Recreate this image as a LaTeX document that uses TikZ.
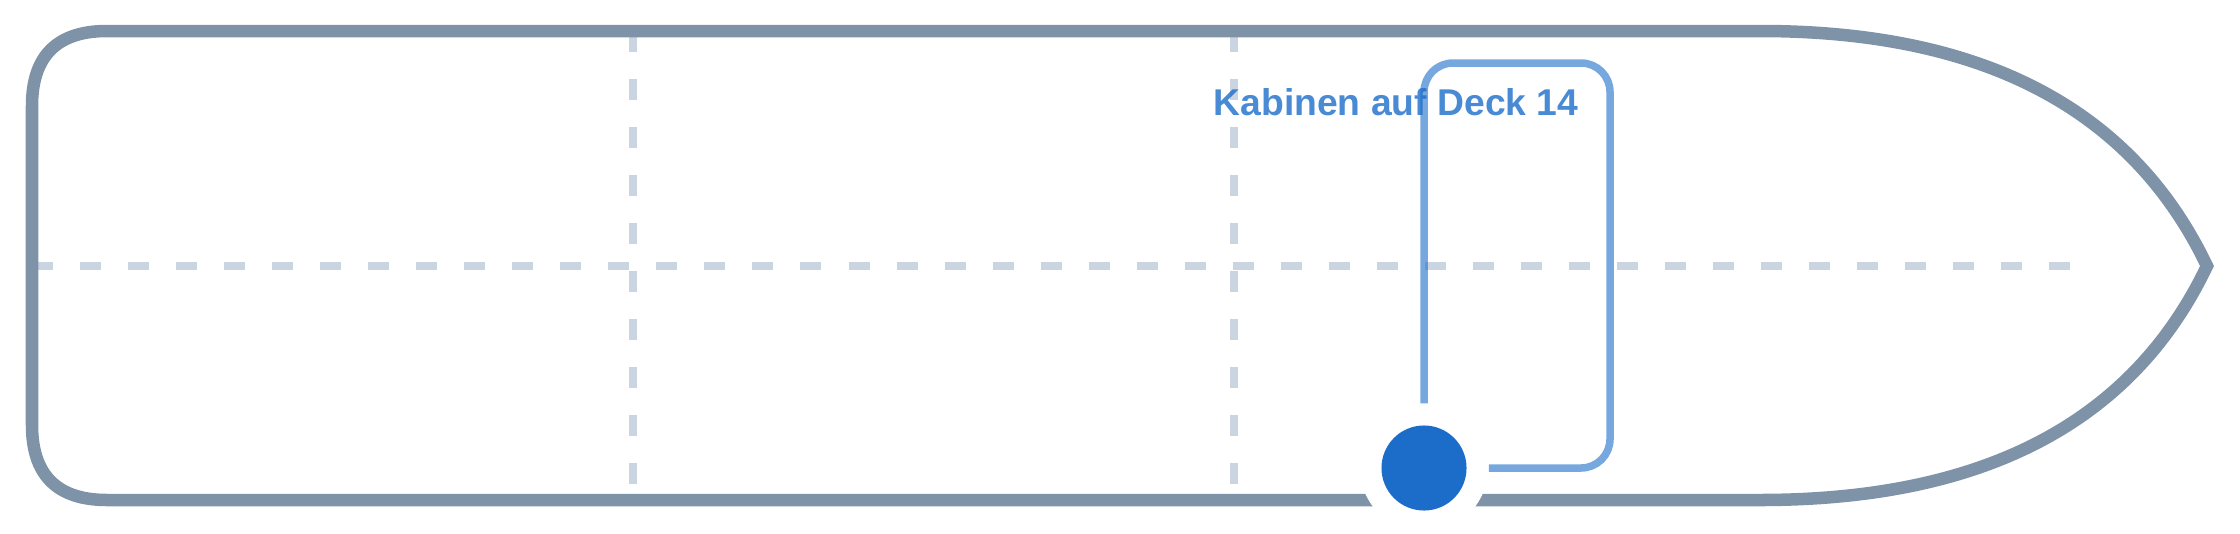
\documentclass[tikz,border=0pt]{standalone}
\usepackage{fontspec}
\setmainfont{Liberation Sans}
\definecolor{hullgray}{RGB}{127,147,168}
\definecolor{gridgray}{RGB}{203,213,225}
\definecolor{cabinblue}{RGB}{28,109,201}
\tikzset{
         hull/.style={draw=hullgray,line width=0.125cm,line join=miter,line cap=round},
         grid line/.style={draw=gridgray,line width=0.08cm,dash pattern=on 0.21cm off 0.27cm},
         route/.style={draw=cabinblue,draw opacity=0.6,line width=0.075cm,rounded corners=0.29cm},
         halo/.style={circle,fill=white,inner sep=0pt,minimum size=1.28cm},
         dot/.style={circle,fill=cabinblue,inner sep=0pt,minimum size=0.85cm},
         deck label/.style={text=cabinblue,text opacity=0.8,font=\bfseries\fontsize{10.6}{12}\selectfont,anchor=base,inner sep=0pt}
        }
\begin{document}
\begin{tikzpicture}[x=0.01cm,y=-0.01cm]
\useasboundingbox(0,0)rectangle(2240,533);
%deck grid
\draw[grid line](633,31)--(633,500);
\draw[grid line](1234,31)--(1234,500);
\draw[grid line](32,266)--(2072,266);
%ship outline
\draw[hull](1000,31)--(1760,31)..controls(1983,31)and(2132,109)..(2207,266)
  ..controls(2132,423)and(1983,500)..(1760,500)--(107,500)
  ..controls(57,500)and(32,475)..(32,425)--(32,106)
  ..controls(32,56)and(57,31)..(107,31)--cycle;
%cabin marker and route
\node[halo](halo)at(1424,468){};
\draw[route](halo.north)|-(1610,63)|-(halo.east);
\node[deck label](title)at(1396,115){Kabinen auf Deck 14};
\node[dot](cabin)at(halo.center){};
\end{tikzpicture}
\end{document}
